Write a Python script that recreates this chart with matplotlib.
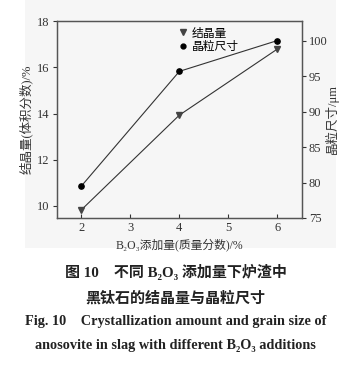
import matplotlib
matplotlib.use("Agg")
from matplotlib import pyplot as plt
from matplotlib.patches import Rectangle
from matplotlib.lines import Line2D

# B2O3 addition (mass fraction) / %
b2o3 = [2, 4, 6]
# crystallization amount (volume fraction) / %
cryst_amount = [9.83, 13.93, 16.79]
# grain size / um
grain_size = [79.5, 95.7, 100.05]

x_ticks = [2, 3, 4, 5, 6]
left_ticks = [10, 12, 14, 16, 18]
right_ticks = [75, 80, 85, 90, 95, 100]

SERIF = ['Liberation Serif', 'Noto Sans CJK SC', 'DejaVu Serif']
plt.rcParams['font.family'] = SERIF

fig = plt.figure(figsize=(3.51, 3.70), dpi=100)
fig.patches.append(Rectangle((25 / 351, 1 - 248 / 370), 311 / 351, 248 / 370,
                             transform=fig.transFigure, facecolor='#f6f6f6',
                             edgecolor='none', zorder=-10))

ax = fig.add_axes([0.162, 0.411, 0.698, 0.532])
ax.patch.set_alpha(0)
ax2 = ax.twinx()

line_col = '#333333'
ax.plot(b2o3, cryst_amount, color=line_col, linewidth=0.8, marker='v',
        markersize=4.5, markerfacecolor='#444444', markeredgecolor='#444444')
ax2.plot(b2o3, grain_size, color=line_col, linewidth=0.8, marker='o',
         markersize=3.8, markerfacecolor='black', markeredgecolor='black')

ax.set_xlim(1.5, 6.5)
ax.set_ylim(9.48, 18)
ax2.set_ylim(75, 102.8)
ax.set_xticks(x_ticks)
ax.set_yticks(left_ticks)
ax2.set_yticks(right_ticks)

for a in (ax, ax2):
    for s in a.spines.values():
        s.set_color('#555555')
        s.set_linewidth(0.9)
ax.tick_params(axis='x', direction='in', length=3, labelsize=9, pad=3,
               colors='#333333')
ax.tick_params(axis='y', direction='out', length=3, labelsize=9, pad=2,
               colors='#333333')
ax2.tick_params(axis='y', direction='out', length=3, labelsize=9, pad=2,
                colors='#333333')

ax.set_xlabel('B₂O₃添加量(质量分数)/%', fontsize=8.5, color='#333333',
              labelpad=3)
ax.set_ylabel('结晶量(体积分数)/%', fontsize=9, color='#333333')
ax.yaxis.set_label_coords(-0.096, 0.5)
ax2.set_ylabel('晶粒尺寸/μm', fontsize=9, color='#333333', rotation=90)
ax2.yaxis.set_label_coords(1.094, 0.5)

handles = [Line2D([], [], linestyle='none', marker='v', markersize=4,
                  color='#444444'),
           Line2D([], [], linestyle='none', marker='o', markersize=3.5,
                  color='black')]
ax.legend(handles, ['结晶量', '晶粒尺寸'], loc='upper left',
          bbox_to_anchor=(0.46, 1.015), frameon=False, fontsize=8.5,
          handlelength=0.6, handletextpad=0.5, labelspacing=0.15,
          borderpad=0.3)

fig.text(0.5, 1 - 272 / 370, '图 10    不同 B₂O₃ 添加量下炉渣中',
         ha='center', va='center', fontsize=10.8, fontweight='bold',
         color='#222222')
fig.text(0.5, 1 - 298 / 370, '黑钛石的结晶量与晶粒尺寸', ha='center',
         va='center', fontsize=10.8, fontweight='bold', color='#222222')
fig.text(0.5, 1 - 322 / 370,
         'Fig. 10    Crystallization amount and grain size of',
         ha='center', va='center', fontsize=10.3, fontweight='bold',
         color='#222222')
fig.text(0.5, 1 - 345 / 370,
         'anosovite in slag with different B₂O₃ additions',
         ha='center', va='center', fontsize=10.3, fontweight='bold',
         color='#222222')

fig.savefig('out.png', dpi=100)
